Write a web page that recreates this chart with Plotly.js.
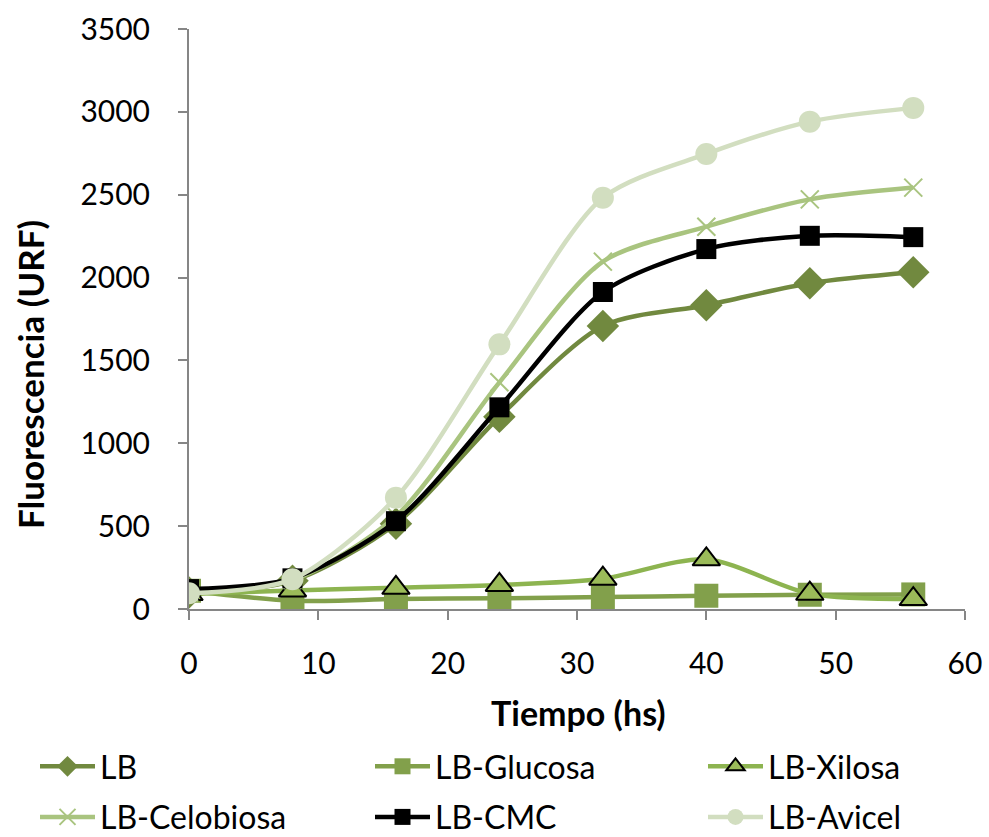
<!DOCTYPE html>
<html>
<head>
<meta charset="utf-8">
<script src="https://cdn.plot.ly/plotly-3.0.1.min.js"></script>
<style>html,body{margin:0;padding:0;background:#fff;}#chart{width:989px;height:837px;}</style>
</head>
<body>
<div id="chart"></div>
<script>
const tiempo = [0, 8, 16, 24, 32, 40, 48, 56];
const seriesNames = ['LB', 'LB-Glucosa', 'LB-Xilosa', 'LB-Celobiosa', 'LB-CMC', 'LB-Avicel'];
const lb         = [100, 170, 515, 1160, 1708, 1833, 1966, 2032];
const lbGlucosa  = [110, 50, 60, 65, 72, 80, 86, 88];
const lbXilosa   = [90, 112, 128, 145, 183, 300, 92, 60];
const lbCelobiosa= [100, 175, 560, 1368, 2096, 2307, 2472, 2543];
const lbCMC      = [120, 185, 530, 1217, 1913, 2172, 2252, 2244];
const lbAvicel   = [95, 180, 672, 1597, 2482, 2746, 2941, 3024];
const xTitle = 'Tiempo (hs)';
const yTitle = 'Fluorescencia (URF)';

const FONT = 'Lato, "Open Sans", sans-serif';

const styles = [
  {color:'#71893F', sym:'diamond', size:25, mline:null, mcolor:'#71893F', legend:'legend'},
  {color:'#82A04B', sym:'square', size:24, mline:null, mcolor:'#82A04B', legend:'legend2'},
  {color:'#8DB450', sym:'triangle-up', size:24, mline:{color:'#000', width:2}, mcolor:'#9BBB59', legend:'legend3'},
  {color:'#A9C47F', sym:'x-thin', size:18, mline:{color:'#A9C47F', width:2}, mcolor:'#A9C47F', legend:'legend'},
  {color:'#000000', sym:'square', size:20, mline:null, mcolor:'#000000', legend:'legend2'},
  {color:'#D2DEC0', sym:'circle', size:22, mline:null, mcolor:'#D2DEC0', legend:'legend3'}
];
const data = [lb, lbGlucosa, lbXilosa, lbCelobiosa, lbCMC, lbAvicel];

const traces = data.map((ys, i) => {
  const s = styles[i];
  const m = {symbol: s.sym, size: s.size, color: s.mcolor};
  if (s.mline) m.line = s.mline;
  return {
    x: tiempo, y: ys, name: seriesNames[i], type: 'scatter', mode: 'lines+markers',
    legend: s.legend, legendgroup: 'g' + i,
    line: {color: s.color, width: 4.5, shape: 'spline', smoothing: 0.8},
    marker: m
  };
});

function mkLegend(xpx) {
  return {
    orientation: 'v', xref: 'container', yref: 'container',
    x: xpx/989, y: 1 - 739/837, xanchor: 'left', yanchor: 'top',
    font: {family: FONT, size: 32, color: '#000'},
    traceorder: 'grouped', tracegroupgap: 6, itemwidth: 55,
    bgcolor: 'rgba(0,0,0,0)'
  };
}

const layout = {
  width: 989, height: 837,
  margin: {l: 189, r: 24, t: 29, b: 228, autoexpand: false},
  paper_bgcolor: '#fff', plot_bgcolor: '#fff',
  font: {family: FONT, size: 24, color: '#000'},
  showlegend: true,
  xaxis: {
    range: [0, 60], dtick: 10, tick0: 0,
    showgrid: false, zeroline: false, automargin: false,
    showline: true, linecolor: '#868686', linewidth: 2,
    ticks: 'outside', ticklen: 9, tickcolor: '#868686', tickwidth: 2,
    ticklabelstandoff: 18, tickangle: 0,
    tickfont: {family: FONT, size: 30, color: '#000'}
  },
  yaxis: {
    range: [0, 3500], dtick: 500, tick0: 0,
    showgrid: false, zeroline: false, automargin: false,
    showline: true, linecolor: '#868686', linewidth: 2,
    ticks: 'outside', ticklen: 9, tickcolor: '#868686', tickwidth: 2,
    ticklabelstandoff: 22,
    tickfont: {family: FONT, size: 30, color: '#000'}
  },
  annotations: [
    {text: '<b>' + xTitle + '</b>', xref: 'paper', yref: 'paper',
     x: (578 - 189) / 776, y: (609 - 712) / 580, xanchor: 'center', yanchor: 'middle',
     showarrow: false, font: {family: FONT, size: 34, color: '#000'}},
    {text: '<b>' + yTitle + '</b>', xref: 'paper', yref: 'paper', textangle: -90,
     x: (30 - 189) / 776, y: (609 - 375) / 580, xanchor: 'center', yanchor: 'middle',
     showarrow: false, font: {family: FONT, size: 35, color: '#000'}}
  ],
  legend: mkLegend(35),
  legend2: mkLegend(370),
  legend3: mkLegend(703)
};

Plotly.newPlot('chart', traces, layout, {displayModeBar: false, staticPlot: true});
</script>
</body>
</html>
